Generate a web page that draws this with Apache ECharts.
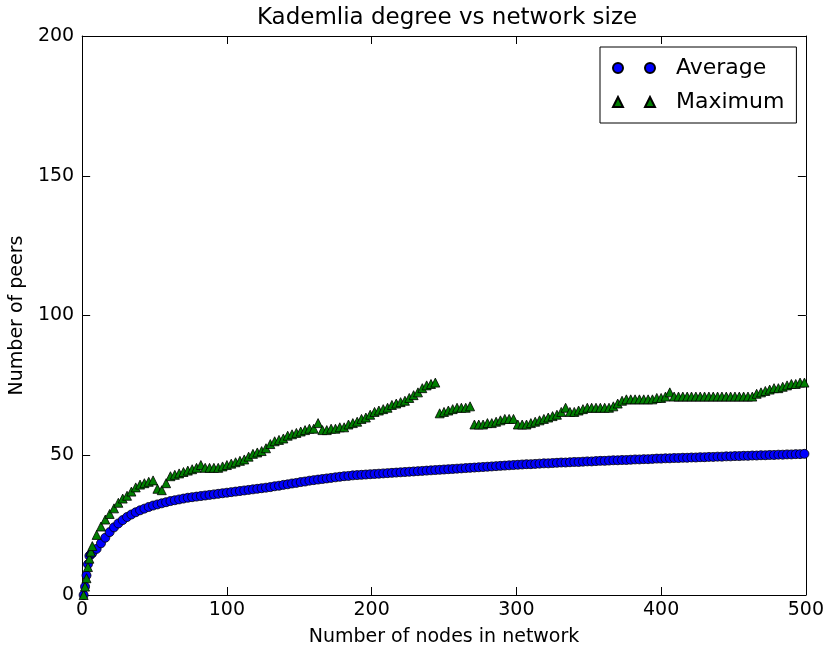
<!DOCTYPE html>
<html>
<head>
<meta charset="utf-8">
<script src="https://cdn.jsdelivr.net/npm/echarts@6/dist/echarts.min.js"></script>
<style>
html,body{margin:0;padding:0;background:#fff;}
#chart{width:827px;height:652px;}
</style>
</head>
<body>
<div id="chart"></div>
<script>
const nodes = [1,2,3,4,5,6,7,
10,13,16,19,22,25,28,31,34,37,
40,43,46,49,52,55,58,61,64,67,
70,73,76,79,82,85,88,91,94,97,
100,103,106,109,112,115,118,121,124,127,
130,133,136,139,142,145,148,151,154,157,
160,163,166,169,172,175,178,181,184,187,
190,193,196,199,202,205,208,211,214,217,
220,223,226,229,232,235,238,241,244,247,
250,253,256,259,262,265,268,271,274,277,
280,283,286,289,292,295,298,301,304,307,
310,313,316,319,322,325,328,331,334,337,
340,343,346,349,352,355,358,361,364,367,
370,373,376,379,382,385,388,391,394,397,
400,403,406,409,412,415,418,421,424,427,
430,433,436,439,442,445,448,451,454,457,
460,463,466,469,472,475,478,481,484,487,
490,493,496,499];

const averagePeers = [0,3,7,11,14,14.5,15,
16.5,18.5,20.5,22.5,24.2,25.6,26.8,27.9,28.8,29.6,
30.3,30.9,31.5,32.0,32.4,32.8,33.2,33.6,33.9,34.2,
34.5,34.8,35.0,35.2,35.4,35.6,35.8,36.0,36.2,36.4,
36.6,36.8,37.0,37.2,37.4,37.6,37.8,38.0,38.2,38.4,
38.6,38.9,39.1,39.4,39.6,39.9,40.1,40.4,40.6,40.9,
41.1,41.3,41.5,41.7,41.9,42.1,42.3,42.5,42.6,42.8,
42.9,43.0,43.1,43.2,43.3,43.4,43.5,43.6,43.7,43.8,
43.9,44.0,44.1,44.2,44.3,44.4,44.5,44.6,44.7,44.8,
44.9,45.0,45.1,45.2,45.3,45.4,45.5,45.6,45.7,45.8,
45.9,46.0,46.1,46.2,46.3,46.4,46.5,46.6,46.7,46.8,
46.8,46.9,47.0,47.1,47.1,47.2,47.3,47.4,47.4,47.5,
47.6,47.6,47.7,47.8,47.8,47.9,48.0,48.0,48.1,48.2,
48.2,48.3,48.3,48.4,48.5,48.5,48.6,48.6,48.7,48.8,
48.8,48.9,48.9,49.0,49.0,49.1,49.1,49.2,49.2,49.3,
49.3,49.4,49.4,49.5,49.5,49.6,49.6,49.7,49.7,49.8,
49.8,49.9,49.9,50.0,50.0,50.1,50.1,50.2,50.2,50.3,
50.3,50.4,50.4,50.5];

const maximumPeers = [0,3,6,10,13,15.5,17.5,
21.5,24.5,27,29,31,33,34.5,35.5,37,38.5,
39.5,40,40.5,41,38,37.5,40,42.5,43,43.5,
44,44.5,45,45.5,46.5,45.5,45.5,45.5,45.5,46,
46.5,47,47.5,48,48.5,49.5,50.5,51,51.5,52.5,
54,55,55.5,56,57,57.5,58,58.5,59,59.5,
59.5,61.5,59,59,59.5,59.5,60,60,61,61.5,
62,63,63.5,64.5,65.5,66,66.5,67,68,68.5,
69,69.5,70.5,71.5,72.5,74,75,75.5,76,65,
65.5,66,66.5,67,67,67,67.5,61,61,61,
61.5,61.5,62,62.5,63,63,63,61,61,61,
61.5,62,62.5,63,63.5,64,64.5,65.5,67,65.5,
65.5,66,66.5,67,67,67,67,67,67,67.5,
68.5,69.5,70,70,70,70,70,70,70,70.5,
70.5,71,72.5,71,71,71,71,71,71,71,
71,71,71,71,71,71,71,71,71,71,
71,71,72,72.5,73,73.5,74,74,74.5,75,
75.5,75.5,76,76];

const xTicks = [0, 100, 200, 300, 400, 500];
const yTicks = [0, 50, 100, 150, 200];

function pairs(xs, ys) {
  const n = Math.min(xs.length, ys.length);
  const out = [];
  for (let i = 0; i < n; i++) out.push([xs[i], ys[i]]);
  return out;
}

const FONT = 'DejaVu Sans';
const chart = echarts.init(document.getElementById('chart'), null, {renderer: 'canvas'});

const axisCommon = {
  axisLine: {show: true, onZero: false, lineStyle: {color: '#000', width: 1}},
  axisTick: {show: true, inside: true, length: 8, lineStyle: {color: '#000', width: 1}},
  splitLine: {show: false},
  minorTick: {show: false}
};

chart.setOption({
  animation: false,
  backgroundColor: '#fff',
  title: {
    text: 'Kademlia degree vs network size',
    left: 447, top: 7, textAlign: 'center', padding: 0,
    textStyle: {fontFamily: FONT, fontSize: 23, fontWeight: 'normal', color: '#000'}
  },
  grid: {left: 82, top: 36, right: 20, bottom: 55, containLabel: false},
  legend: {
    left: 600, top: 47,
    orient: 'vertical',
    backgroundColor: '#fff',
    borderColor: '#000', borderWidth: 1, borderRadius: 0,
    padding: [9, 12, 9, 12],
    itemGap: 10,
    itemWidth: 42, itemHeight: 10,
    textStyle: {fontFamily: FONT, fontSize: 22, color: '#000', lineHeight: 24, padding: [0, 0, 0, 16]},
    data: [
      {name: 'Average', icon: 'path://M0,5A5,5 0 1,1 10,5A5,5 0 1,1 0,5ZM32,5A5,5 0 1,1 42,5A5,5 0 1,1 32,5Z'},
      {name: 'Maximum', icon: 'path://M0,10L5,0L10,10ZM32,10L37,0L42,10Z'}
    ]
  },
  xAxis: [
    Object.assign({
      type: 'value', position: 'bottom', min: xTicks[0], max: xTicks[xTicks.length - 1], interval: 100,
      name: 'Number of nodes in network', nameLocation: 'middle', nameGap: 33,
      nameTextStyle: {fontFamily: FONT, fontSize: 19, color: '#000'},
      axisLabel: {show: true, margin: 6, fontFamily: FONT, fontSize: 19, color: '#000'}
    }, axisCommon),
    Object.assign({
      type: 'value', position: 'top', min: xTicks[0], max: xTicks[xTicks.length - 1], interval: 100,
      axisLabel: {show: false}
    }, axisCommon)
  ],
  yAxis: [
    Object.assign({
      type: 'value', position: 'left', min: yTicks[0], max: yTicks[yTicks.length - 1], interval: 50,
      name: 'Number of peers', nameLocation: 'middle', nameGap: 47, nameRotate: 90,
      nameTextStyle: {fontFamily: FONT, fontSize: 19, color: '#000'},
      axisLabel: {show: true, margin: 8, fontFamily: FONT, fontSize: 19, color: '#000'}
    }, axisCommon),
    Object.assign({
      type: 'value', position: 'right', min: yTicks[0], max: yTicks[yTicks.length - 1], interval: 50,
      axisLabel: {show: false}
    }, axisCommon)
  ],
  series: [
    {
      name: 'Average', type: 'scatter', xAxisIndex: 0, yAxisIndex: 0,
      symbol: 'circle', symbolSize: 9,
      itemStyle: {color: '#0000ff', borderColor: '#000', borderWidth: 0.8, opacity: 1},
      data: pairs(nodes, averagePeers)
    },
    {
      name: 'Maximum', type: 'scatter', xAxisIndex: 0, yAxisIndex: 0,
      symbol: 'triangle', symbolSize: 9,
      itemStyle: {color: '#007f00', borderColor: '#000', borderWidth: 0.8, opacity: 1},
      data: pairs(nodes, maximumPeers)
    }
  ]
});
</script>
</body>
</html>
